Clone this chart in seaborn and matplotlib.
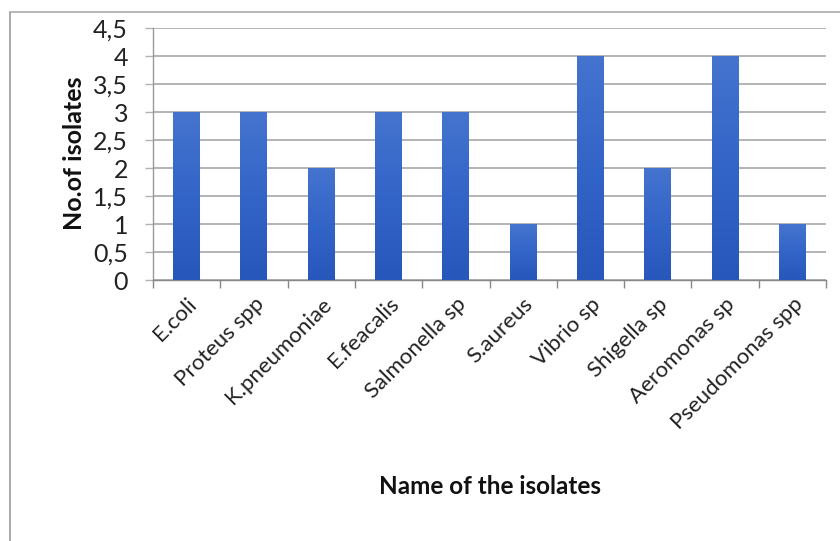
import matplotlib
matplotlib.use("Agg")
import matplotlib.pyplot as plt
import seaborn as sns
import numpy as np
import pandas as pd
from matplotlib.lines import Line2D
from matplotlib.colors import LinearSegmentedColormap
from matplotlib.ticker import FuncFormatter, MultipleLocator

categories = ["E.coli", "Proteus spp", "K.pneumoniae", "E.feacalis", "Salmonella sp",
              "S.aureus", "Vibrio sp", "Shigella sp", "Aeromonas sp", "Pseudomonas spp"]
counts = [3, 3, 2, 3, 3, 1, 4, 2, 4, 1]
y_ticks = [0, 0.5, 1, 1.5, 2, 2.5, 3, 3.5, 4, 4.5]

df = pd.DataFrame({"isolate": categories, "count": counts})

sns.set_theme(style="white")
plt.rcParams['font.family'] = ['Lato', 'DejaVu Sans']

W, H = 840, 541
fig = plt.figure(figsize=(W / 100, H / 100), dpi=100)
ax = fig.add_axes([153 / W, 1 - 280 / H, (826 - 153) / W, (280 - 28) / H])

sns.barplot(data=df, x="isolate", y="count", ax=ax, color="#3465c6", width=0.4,
            saturation=1, zorder=3)

cmap = LinearSegmentedColormap.from_list("g", ["#2857bb", "#3364c7", "#4574cf"])
grad = np.linspace(0, 1, 256).reshape(-1, 1)
for p in list(ax.patches):
    x0, y0 = p.get_x(), p.get_y()
    w, h = p.get_width(), p.get_height()
    im = ax.imshow(grad, extent=[x0, x0 + w, y0, y0 + h], origin="lower", cmap=cmap,
                   aspect="auto", zorder=4)
    im.set_clip_path(p)
    p.set_edgecolor("none")

ax.set_xlim(-0.5, len(categories) - 0.5)
ax.set_ylim(0, 4.5)
ax.set_yticks(y_ticks)
ax.yaxis.set_major_formatter(FuncFormatter(lambda v, pos: (f"{v:g}").replace(".", ",")))
ax.grid(axis="y", color="#b3b3b3", linewidth=1.4, zorder=0)
ax.set_axisbelow(True)

# Excel-like tick marks between categories
ax.set_xticks(np.arange(len(categories)))
ax.set_xticklabels(categories, rotation=45, ha="right", rotation_mode="anchor",
                   fontsize=16, color="#222222")
ax.set_xticks(np.arange(-0.5, len(categories), 1), minor=True)
ax.tick_params(axis="x", which="major", length=0, pad=10)
ax.tick_params(axis="x", which="minor", length=6, width=1, color="#888888", direction="out",
               bottom=True)
ax.tick_params(axis="y", length=6, width=1, color="#b3b3b3", direction="out", left=True,
               labelsize=18, labelcolor="#222222", pad=12)

for side in ["top", "right"]:
    ax.spines[side].set_visible(False)
ax.spines["left"].set_color("#999999")
ax.spines["bottom"].set_color("#888888")
ax.spines["left"].set_linewidth(1)
ax.spines["bottom"].set_linewidth(1)

ax.set_xlabel("")
ax.set_ylabel("")
fig.text(490 / W, 1 - 487 / H, "Name of the isolates", ha="center", va="center",
         fontsize=17.5, fontweight="bold", color="#111111")
fig.text(75 / W, 1 - 153 / H, "No.of isolates", ha="center", va="center", rotation=90,
         fontsize=18, fontweight="bold", color="#111111")

# outer frame (top and left borders)
fig.add_artist(Line2D([10 / W, 10 / W], [0, 1 - 12 / H], transform=fig.transFigure,
                      color="#999999", linewidth=1.2))
fig.add_artist(Line2D([10 / W, 1], [1 - 12 / H, 1 - 12 / H], transform=fig.transFigure,
                      color="#aaaaaa", linewidth=1.2))

fig.savefig("out.png", dpi=100)
